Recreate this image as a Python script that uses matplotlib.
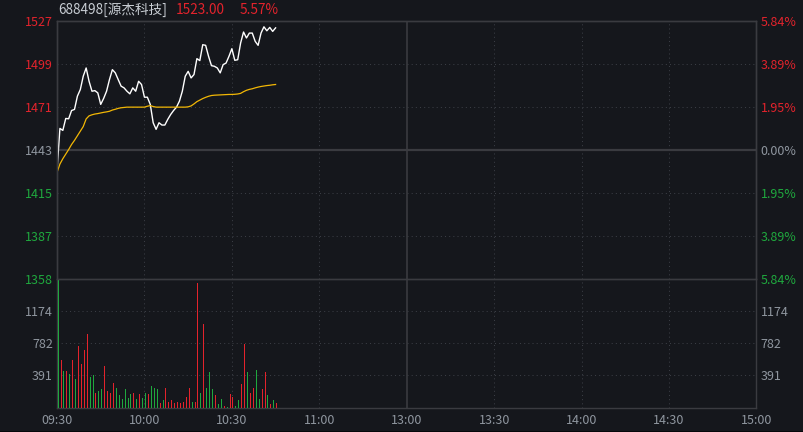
import numpy as np
import matplotlib
matplotlib.use("Agg")
import matplotlib.pyplot as plt
from matplotlib.lines import Line2D

plt.rcParams['font.family'] = ['Noto Sans CJK SC', 'DejaVu Sans']

# ---- data ----
code_name = "688498[源杰科技]"
last_price = "1523.00"
last_pct = "5.57%"
prev_close = 1443.0

price = [1430.0, 1457.3, 1456.0, 1463.8, 1463.6, 1469.0, 1469.7, 1478.4, 1482.7, 1491.4,
         1496.8, 1488.1, 1481.6, 1482.0, 1480.5, 1473.0, 1476.9, 1481.6, 1489.2, 1495.7,
         1493.6, 1489.2, 1484.9, 1483.8, 1481.6, 1479.9, 1483.8, 1481.6, 1488.1, 1486.0,
         1477.7, 1477.7, 1473.0, 1461.0, 1456.7, 1461.0, 1459.5, 1459.5, 1463.2, 1466.4,
         1469.0, 1471.2, 1475.1, 1481.6, 1491.4, 1494.6, 1490.3, 1492.5, 1502.9, 1501.6,
         1512.0, 1511.6, 1504.4, 1498.3, 1497.9, 1496.8, 1493.6, 1499.0, 1500.0, 1504.4,
         1509.4, 1501.8, 1502.2, 1513.1, 1520.3, 1516.4, 1519.6, 1519.6, 1514.2, 1511.6,
         1519.6, 1523.7, 1521.1, 1523.3, 1520.7, 1523.0]

avg_price = [1428.5, 1434.0, 1437.5, 1440.5, 1443.5, 1446.8, 1449.5, 1452.5, 1455.5, 1458.5,
             1463.5, 1465.5, 1466.2, 1466.7, 1467.0, 1467.4, 1467.8, 1468.1, 1468.5, 1469.3,
             1469.8, 1470.4, 1470.8, 1471.0, 1471.2, 1471.2, 1471.2, 1471.2, 1471.2, 1471.2,
             1471.2, 1471.8, 1472.2, 1471.6, 1471.2, 1471.2, 1471.2, 1471.2, 1471.2, 1471.2,
             1471.2, 1471.2, 1471.2, 1471.2, 1471.2, 1471.4, 1472.0, 1473.3, 1474.8, 1475.8,
             1476.8, 1477.6, 1478.3, 1478.8, 1479.0, 1479.1, 1479.2, 1479.3, 1479.4, 1479.5,
             1479.5, 1479.6, 1479.8, 1480.2, 1481.3, 1482.2, 1482.8, 1483.2, 1483.8, 1484.3,
             1484.7, 1485.0, 1485.3, 1485.5, 1485.8, 1486.0]

volume = [1564, 578, 440, 440, 403, 574, 342, 745, 525, 700,
          892, 371, 391, 183, 196, 220, 501, 196, 183, 305,
          232, 147, 98, 220, 110, 159, 183, 98, 159, 122,
          171, 159, 257, 244, 220, 61, 86, 232, 73, 86,
          49, 73, 49, 73, 134, 244, 73, 73, 1523, 183,
          1014, 244, 428, 220, 147, 37, 98, 24, 12, 159,
          134, 24, 86, 293, 770, 428, 171, 232, 452, 98,
          220, 428, 147, 37, 86, 49]

vol_up = [0, 1, 0, 1, 0, 1, 0, 1, 1, 1,
          1, 0, 0, 1, 0, 0, 1, 1, 1, 1,
          0, 0, 0, 0, 0, 0, 1, 0, 1, 0,
          0, 1, 0, 0, 0, 1, 0, 1, 1, 1,
          1, 1, 1, 1, 1, 1, 0, 1, 1, 0,
          1, 0, 0, 0, 1, 0, 0, 1, 0, 1,
          1, 0, 0, 1, 1, 0, 1, 1, 0, 0,
          1, 1, 0, 1, 0, 1]

price_ticks = [1527.3, 1499.2, 1471.1, 1443.0, 1414.9, 1386.8, 1358.7]
price_labels = ["1527", "1499", "1471", "1443", "1415", "1387", "1358"]
pct_labels = ["5.84%", "3.89%", "1.95%", "0.00%", "1.95%", "3.89%", "5.84%"]
vol_ticks = [391, 782, 1174]
vol_labels = ["391", "782", "1174"]
time_ticks = [0, 30, 60, 90, 120, 150, 180, 210, 240]
time_labels = ["09:30", "10:00", "10:30", "11:00", "13:00", "13:30", "14:00", "14:30", "15:00"]

# ---- colours ----
bg = '#15171c'
red = '#e3232c'
green = '#1fa83e'
gray = '#8f969f'
grid_c = '#3a3d44'
line_c = '#3a3b40'

minutes = np.arange(len(price))

fig = plt.figure(figsize=(8.04, 4.32), dpi=100, facecolor=bg)
ax = fig.add_axes([0.0709, 0.3535, 0.8700, 0.5972], facecolor=bg)
axv = fig.add_axes([0.0709, 0.0567, 0.8700, 0.2968], facecolor=bg, sharex=ax)

dots = (0, (1, 3))

# price panel
ax.plot(minutes, price, color='white', lw=1.0, zorder=3)
ax.plot(minutes, avg_price, color='#f2b705', lw=0.9, zorder=3)
ax.set_xlim(0, 240)
ax.set_ylim(price_ticks[-1], price_ticks[0])
for t in price_ticks[1:-1]:
    if t == prev_close:
        ax.axhline(t, color=line_c, lw=1.6, zorder=1)
    else:
        ax.axhline(t, color=grid_c, lw=0.75, ls=dots, zorder=1)
for t in time_ticks[1:-1]:
    for a in (ax, axv):
        if t == 120:
            a.axvline(t, color=line_c, lw=1.2, zorder=1)
        else:
            a.axvline(t, color=grid_c, lw=0.75, ls=dots, zorder=1)

ax.set_yticks(price_ticks)
ax.set_yticklabels(price_labels)
ax.tick_params(axis='y', length=0, pad=3, labelsize=9)
ax.tick_params(axis='x', length=0, labelbottom=False)
ax2 = ax.twinx()
ax2.set_ylim(ax.get_ylim())
ax2.set_yticks(price_ticks)
ax2.set_yticklabels(pct_labels)
ax2.tick_params(axis='y', length=0, pad=3, labelsize=9)
for labs in (ax.get_yticklabels(), ax2.get_yticklabels()):
    for i, lab in enumerate(labs):
        lab.set_color(red if i < 3 else (gray if i == 3 else green))

# volume panel: thin volume bars
cols = [red if u else green for u in vol_up]
axv.vlines(minutes + 0.2, 0, volume, colors=cols, lw=0.6, zorder=3, antialiased=False)
axv.set_ylim(0, 1565)
for t in vol_ticks:
    axv.axhline(t, color=grid_c, lw=0.75, ls=dots, zorder=1)
axv.set_yticks(vol_ticks)
axv.set_yticklabels(vol_labels)
axv.tick_params(axis='y', length=0, pad=3, labelsize=9, labelcolor=gray,
                labelleft=True, labelright=True)
axv.set_xticks(time_ticks)
axv.set_xticklabels(time_labels)
axv.tick_params(axis='x', length=0, pad=5, labelsize=9, labelcolor=gray)

for a in (ax, ax2, axv):
    for s in a.spines.values():
        s.set_color(line_c)
        s.set_linewidth(1.0)
        s.set_zorder(0.5)
ax.spines['bottom'].set_visible(False)

# header
fig.text(58 / 804, 1 - 10 / 432, code_name, color='#c9ced4', fontsize=9.8, va='center', ha='left')
fig.text(176 / 804, 1 - 10 / 432, last_price, color=red, fontsize=9.8, va='center', ha='left')
fig.text(240 / 804, 1 - 10 / 432, last_pct, color=red, fontsize=9.8, va='center', ha='left')

fig.add_artist(Line2D([0, 1], [0.5 / 432, 0.5 / 432], transform=fig.transFigure,
                      color='#050608', lw=2))

fig.savefig('out.png', dpi=100, facecolor=bg)
